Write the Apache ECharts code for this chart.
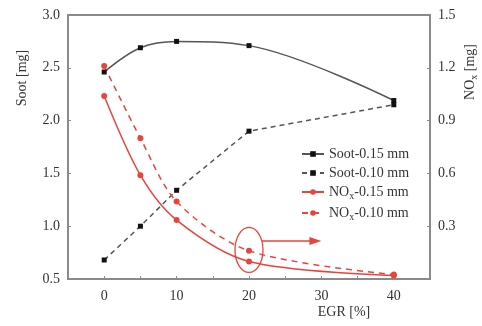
<!DOCTYPE html>
<html>
<head>
<meta charset="utf-8">
<script src="https://cdn.jsdelivr.net/npm/echarts@6/dist/echarts.min.js"></script>
<style>html,body{margin:0;padding:0;background:#fff}#c{width:482px;height:326px}</style>
</head>
<body>
<div id="c"></div>
<script>
const egr = [0, 5, 10, 20, 40];
const soot015 = [2.46, 2.69, 2.75, 2.71, 2.19];
const soot010 = [0.68, 1.00, 1.34, 1.90, 2.15];
const nox015 = [1.04, 0.59, 0.335, 0.10, 0.02];
const nox010 = [1.21, 0.80, 0.44, 0.16, 0.025];
const xTicks = [0, 10, 20, 30, 40];
const names = ['Soot-0.15 mm', 'Soot-0.10 mm', 'NO{sub|x}-0.15 mm', 'NO{sub|x}-0.10 mm'];

const FONT = '"Liberation Serif", "DejaVu Serif", serif';
const AX = '#8a8a8a';
const TXT = '#333';
const RED = '#e8443c';
const pair = (ys) => egr.map((x, i) => [x, ys[i]]);

const chart = echarts.init(document.getElementById('c'), null, {renderer: 'canvas'});
const axisCommon = {
  axisLine: {show: true, onZero: false, lineStyle: {color: AX, width: 1.5}},
  axisTick: {show: true, inside: true, length: 3, lineStyle: {color: AX}},
  splitLine: {show: false},
  axisLabel: {color: TXT, fontFamily: FONT, fontSize: 14}
};
chart.setOption({
  animation: false,
  grid: {left: 68, right: 52, top: 15, bottom: 47, show: true, borderColor: AX, borderWidth: 2},
  legend: {
    orient: 'vertical', left: 296, top: 142, itemWidth: 22, itemHeight: 7, itemGap: 5,
    textStyle: {color: TXT, fontFamily: FONT, fontSize: 14,
      rich: {sub: {fontFamily: FONT, fontSize: 10, color: TXT, verticalAlign: 'bottom', padding: [8, 0, 0, 0]}}},
    data: names
  },
  xAxis: Object.assign({}, axisCommon, {
    type: 'value', min: -5, max: 45, interval: 5,
    axisLabel: Object.assign({}, axisCommon.axisLabel, {margin: 10,
      formatter: v => xTicks.indexOf(v) >= 0 ? String(v) : ''})
  }),
  yAxis: [
    Object.assign({}, axisCommon, {
      type: 'value', min: 0.5, max: 3.0, interval: 0.5, position: 'left',
      axisLabel: Object.assign({}, axisCommon.axisLabel, {margin: 8, formatter: v => v.toFixed(1)})
    }),
    Object.assign({}, axisCommon, {
      type: 'value', min: 0, max: 1.5, interval: 0.3, position: 'right',
      axisLabel: Object.assign({}, axisCommon.axisLabel, {margin: 8, showMinLabel: false, formatter: v => v.toFixed(1)})
    })
  ],
  series: [
    {name: names[0], type: 'line', data: pair(soot015), smooth: 0.35,
     symbol: 'rect', symbolSize: 5, itemStyle: {color: '#111'}, lineStyle: {color: '#555', width: 1.5}},
    {name: names[1], type: 'line', data: pair(soot010),
     symbol: 'rect', symbolSize: 5, itemStyle: {color: '#111'}, lineStyle: {color: '#555', width: 1.5, type: [5, 4]}},
    {name: names[2], type: 'line', yAxisIndex: 1, data: pair(nox015), smooth: 0.3,
     symbol: 'circle', symbolSize: 6, itemStyle: {color: RED}, lineStyle: {color: RED, width: 1.5}},
    {name: names[3], type: 'line', yAxisIndex: 1, data: pair(nox010), smooth: 0.3,
     symbol: 'circle', symbolSize: 6, itemStyle: {color: RED}, lineStyle: {color: RED, width: 1.5, type: [6, 5]}}
  ]
});

const c = chart.convertToPixel({xAxisIndex: 0, yAxisIndex: 1}, [20, 0.165]);
const a0 = chart.convertToPixel({xAxisIndex: 0, yAxisIndex: 1}, [21.8, 0.216]);
const a1 = chart.convertToPixel({xAxisIndex: 0, yAxisIndex: 1}, [30, 0.216]);
chart.setOption({
  graphic: [
    {type: 'ellipse', shape: {cx: c[0], cy: c[1], rx: 14, ry: 22.5}, style: {fill: 'none', stroke: RED, lineWidth: 1.3}},
    {type: 'line', shape: {x1: a0[0], y1: a0[1], x2: a1[0] - 10, y2: a1[1]}, style: {stroke: RED, lineWidth: 1.3}},
    {type: 'polygon', shape: {points: [[a1[0] - 12, a1[1] - 4], [a1[0], a1[1]], [a1[0] - 12, a1[1] + 4]]}, style: {fill: RED}},
    {type: 'text', x: 22, y: 78, rotation: Math.PI / 2, style: {text: 'Soot [mg]', fill: TXT, font: '14px ' + FONT, align: 'center', verticalAlign: 'middle'}},
    {type: 'text', x: 470, y: 72, rotation: Math.PI / 2,
     style: {text: 'NO{sub|x} [mg]', fill: TXT, font: '14px ' + FONT, align: 'center', verticalAlign: 'middle',
       rich: {sub: {font: '10px ' + FONT, fill: TXT, padding: [8, 0, 0, 0]}}}},
    {type: 'text', x: 344, y: 312, style: {text: 'EGR [%]', fill: TXT, font: '14px ' + FONT, align: 'center', verticalAlign: 'middle'}}
  ]
});
</script>
</body>
</html>
